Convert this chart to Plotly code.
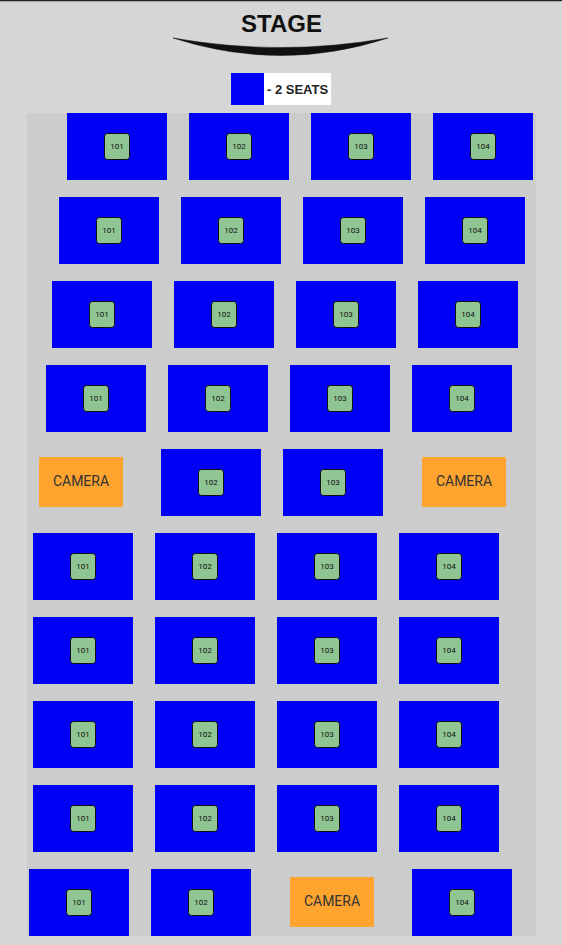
import plotly.graph_objects as go

# seat map data: one list per row, front row first
rows = [
    ["101", "102", "103", "104"],
    ["101", "102", "103", "104"],
    ["101", "102", "103", "104"],
    ["101", "102", "103", "104"],
    ["CAMERA", "102", "103", "CAMERA"],
    ["101", "102", "103", "104"],
    ["101", "102", "103", "104"],
    ["101", "102", "103", "104"],
    ["101", "102", "103", "104"],
    ["101", "102", "CAMERA", "104"],
]
stage_label = "STAGE"
legend_label = "- 2 SEATS"

# layout (pixels, page coordinates)
W, H = 562, 945
row_x = [
    [67, 189, 311, 433],
    [59, 181, 303, 425],
    [52, 174, 296, 418],
    [46, 168, 290, 412],
    [39, 161, 283, 422],
    [33, 155, 277, 399],
    [33, 155, 277, 399],
    [33, 155, 277, 399],
    [33, 155, 277, 399],
    [29, 151, 290, 412],
]
row_top, row_step = 113, 84
block_w, block_h = 100, 67
cam_w, cam_h, cam_dy = 84, 50, 8
tag_w, tag_h, tag_r = 25, 26, 3

BLUE = "#0000f4"
ORANGE = "#ffa52f"
TAG = "#8fc493"


def rounded_rect(x0, y0, x1, y1, r):
    return (f"M{x0 + r},{y0} L{x1 - r},{y0} Q{x1},{y0} {x1},{y0 + r} "
            f"L{x1},{y1 - r} Q{x1},{y1} {x1 - r},{y1} L{x0 + r},{y1} "
            f"Q{x0},{y1} {x0},{y1 - r} L{x0},{y0 + r} Q{x0},{y0} {x0 + r},{y0} Z")


shapes = []
# top border line and seating panel
shapes.append(dict(type="line", x0=0, x1=W, y0=0.5, y1=0.5, line=dict(color="#222", width=1.5)))
shapes.append(dict(type="rect", x0=27, x1=536, y0=113, y1=936, fillcolor="#cccccc", line_width=0))

# stage arc
shapes.append(dict(type="path", path="M173,38 Q281,57 388,38 Q281,73 173,38 Z",
                   fillcolor="#111", line=dict(color="#111", width=0.5)))

# legend
shapes.append(dict(type="rect", x0=231, x1=331, y0=73, y1=105, fillcolor="white", line_width=0))
shapes.append(dict(type="rect", x0=231, x1=264, y0=73, y1=105, fillcolor=BLUE, line_width=0))

seat_x, seat_y, seat_t = [], [], []
cam_x, cam_y = [], []
for i, row in enumerate(rows):
    top = row_top + i * row_step
    for j, label in enumerate(row):
        x0 = row_x[i][j]
        if label == "CAMERA":
            shapes.append(dict(type="rect", x0=x0, x1=x0 + cam_w, y0=top + cam_dy, y1=top + cam_dy + cam_h,
                               fillcolor=ORANGE, line_width=0))
            cam_x.append(x0 + cam_w / 2)
            cam_y.append(top + cam_dy + cam_h / 2)
        else:
            shapes.append(dict(type="rect", x0=x0, x1=x0 + block_w, y0=top, y1=top + block_h,
                               fillcolor=BLUE, line_width=0))
            cx, cy = x0 + block_w / 2, top + block_h / 2
            shapes.append(dict(type="path",
                               path=rounded_rect(cx - tag_w / 2, cy - tag_h / 2, cx + tag_w / 2, cy + tag_h / 2, tag_r),
                               fillcolor=TAG, line=dict(color="#111", width=1)))
            seat_x.append(cx)
            seat_y.append(cy)
            seat_t.append(label)

# keep all boxes under the text traces
for s in shapes:
    s["layer"] = "below"

fig = go.Figure()
fig.add_trace(go.Scatter(x=seat_x, y=seat_y, text=seat_t, mode="text", hoverinfo="skip",
                         textfont=dict(family="Roboto", size=8, color="#111")))
fig.add_trace(go.Scatter(x=cam_x, y=cam_y, text=["CAMERA"] * len(cam_x), mode="text", hoverinfo="skip",
                         textfont=dict(family="Roboto", size=14, color="#333")))

fig.add_annotation(x=281, y=23, text="<b>" + stage_label + "</b>", showarrow=False,
                   font=dict(family="Liberation Sans", size=24, color="#111"))
fig.add_annotation(x=265, y=89, text="<b>" + legend_label + "</b>", showarrow=False, xanchor="left",
                   font=dict(family="Liberation Sans", size=13, color="#222"))

fig.update_layout(
    width=W, height=H,
    margin=dict(l=0, r=0, t=0, b=0),
    paper_bgcolor="#d6d6d6", plot_bgcolor="#d6d6d6",
    showlegend=False,
    shapes=shapes,
    xaxis=dict(range=[0, W], visible=False, fixedrange=True),
    yaxis=dict(range=[H, 0], visible=False, fixedrange=True),
)

fig.write_html("out.html", config={"displayModeBar": False},
               post_script="document.body.style.margin='0';document.body.style.overflow='hidden';")
